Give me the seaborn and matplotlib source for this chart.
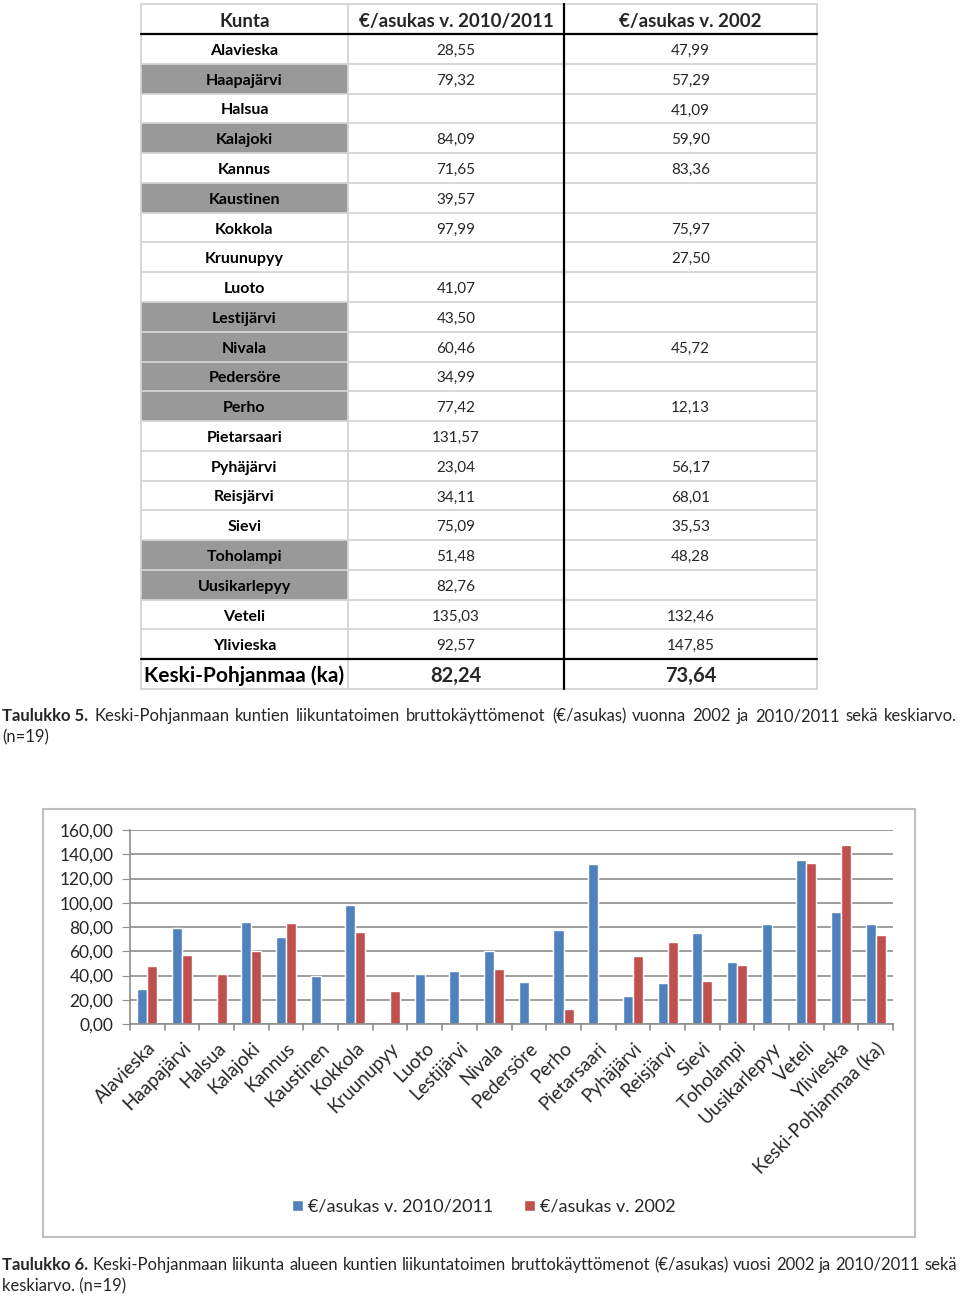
"""
Keski-Pohjanmaa: liikuntatoimen bruttokäyttömenot (€/asukas)
Table (Taulukko 5) + grouped bar chart (Taulukko 6)
"""

import numpy as np
import pandas as pd
import matplotlib
matplotlib.use('Agg')
import matplotlib.pyplot as plt
from matplotlib.patches import Rectangle
import seaborn as sns

nan = np.nan

# --- data -------------------------------------------------------------
kunnat = ['Alavieska', 'Haapajärvi', 'Halsua', 'Kalajoki', 'Kannus', 'Kaustinen',
          'Kokkola', 'Kruunupyy', 'Luoto', 'Lestijärvi', 'Nivala', 'Pedersöre',
          'Perho', 'Pietarsaari', 'Pyhäjärvi', 'Reisjärvi', 'Sievi', 'Toholampi',
          'Uusikarlepyy', 'Veteli', 'Ylivieska', 'Keski-Pohjanmaa (ka)']
v_2011 = [28.55, 79.32, nan, 84.09, 71.65, 39.57, 97.99, nan, 41.07, 43.50, 60.46,
          34.99, 77.42, 131.57, 23.04, 34.11, 75.09, 51.48, 82.76, 135.03, 92.57, 82.24]
v_2002 = [47.99, 57.29, 41.09, 59.90, 83.36, nan, 75.97, 27.50, nan, nan, 45.72,
          nan, 12.13, nan, 56.17, 68.01, 35.53, 48.28, nan, 132.46, 147.85, 73.64]
harmaat = ['Haapajärvi', 'Kalajoki', 'Kaustinen', 'Lestijärvi', 'Nivala',
           'Pedersöre', 'Perho', 'Toholampi', 'Uusikarlepyy']
sarakkeet = ['Kunta', '€/asukas v. 2010/2011', '€/asukas v. 2002']
y_ticks = [0, 20, 40, 60, 80, 100, 120, 140, 160]

caption5 = [('Taulukko 5.', True)] + [(w, False) for w in
            'Keski-Pohjanmaan kuntien liikuntatoimen bruttokäyttömenot (€/asukas) '
            'vuonna 2002 ja 2010/2011 sekä keskiarvo.'.split()]
caption5_2 = '(n=19)'
caption6 = [('Taulukko 6.', True)] + [(w, False) for w in
            'Keski-Pohjanmaan liikunta alueen kuntien liikuntatoimen bruttokäyttömenot '
            '(€/asukas) vuosi 2002 ja 2010/2011 sekä'.split()]
caption6_2 = 'keskiarvo. (n=19)'

BLUE = '#4F81BD'
RED = '#C0504D'

sns.set_style('white')
plt.rcParams['font.family'] = ['Lato', 'DejaVu Sans']

W, H = 960, 1299
fig = plt.figure(figsize=(W / 100, H / 100), dpi=100)

# overlay axes in pixel coordinates for the table and captions
ax0 = fig.add_axes([0, 0, 1, 1])
ax0.set_xlim(0, W)
ax0.set_ylim(H, 0)
ax0.axis('off')


def fmt(v):
    return '' if np.isnan(v) else f'{v:.2f}'.replace('.', ',')


# --- table ------------------------------------------------------------
col_x = [141, 348, 564, 817]
top, head_h = 4, 30
row_h = (689 - 34) / len(kunnat)
grid_c = '#D4D4D4'

for i, k in enumerate(kunnat):
    y0 = top + head_h + i * row_h
    if k in harmaat:
        ax0.add_patch(Rectangle((col_x[0], y0), col_x[1] - col_x[0], row_h,
                                facecolor='#999999', edgecolor='none'))
    last = (i == len(kunnat) - 1)
    cy = y0 + row_h / 2 + 2
    fs_name = 15 if last else 11.5
    fs_val = 14.5 if last else 11
    ax0.text((col_x[0] + col_x[1]) / 2, cy, k, ha='center', va='center',
             fontsize=fs_name, fontweight='bold', color='black')
    ax0.text((col_x[1] + col_x[2]) / 2, cy, fmt(v_2011[i]), ha='center', va='center',
             fontsize=fs_val, fontweight='bold' if last else 'normal')
    ax0.text((col_x[2] + col_x[3]) / 2, cy, fmt(v_2002[i]), ha='center', va='center',
             fontsize=fs_val, fontweight='bold' if last else 'normal')

for j, s in enumerate(sarakkeet):
    ax0.text((col_x[j] + col_x[j + 1]) / 2, top + head_h / 2 + 2, s, ha='center',
             va='center', fontsize=13.5, fontweight='bold')

# grid lines
bottom = top + head_h + len(kunnat) * row_h
for i in range(len(kunnat) + 1):
    y = top + head_h + i * row_h
    ax0.plot([col_x[0], col_x[-1]], [y, y], color=grid_c, lw=1.3, zorder=1)
ax0.plot([col_x[0], col_x[-1]], [top, top], color=grid_c, lw=1.3)
for x in col_x:
    ax0.plot([x, x], [top, bottom], color=grid_c, lw=1.3, zorder=1)
# black rules
ax0.plot([col_x[0], col_x[-1]], [top + head_h] * 2, color='black', lw=1.6, zorder=3)
y_tot = top + head_h + (len(kunnat) - 1) * row_h
ax0.plot([col_x[0], col_x[-1]], [y_tot] * 2, color='black', lw=1.6, zorder=3)
ax0.plot([col_x[2]] * 2, [top, bottom], color='black', lw=1.6, zorder=3)


# --- justified captions ---------------------------------------------------
def justified(words, x0, x1, y, fs=12):
    r = fig.canvas.get_renderer()
    items = []
    for w, b in words:
        t = ax0.text(0, y, w, fontsize=fs, fontweight='bold' if b else 'normal',
                     va='center', ha='left')
        items.append((t, t.get_window_extent(renderer=r).width))
    gap = (x1 - x0 - sum(wd for _, wd in items)) / (len(items) - 1)
    x = x0
    for t, wd in items:
        t.set_x(x)
        x += wd + gap


justified(caption5, 2, 957, 716)
ax0.text(2, 737, caption5_2, fontsize=12, va='center', ha='left')
justified(caption6, 2, 957, 1265)
ax0.text(2, 1286, caption6_2, fontsize=12, va='center', ha='left')

# chart frame
ax0.add_patch(Rectangle((43, 809), 915 - 43, 1237 - 809, facecolor='none',
                        edgecolor='#BFBFBF', lw=1.5))

# --- bar chart ------------------------------------------------------------
df = pd.DataFrame({'Kunta': kunnat, sarakkeet[1]: v_2011, sarakkeet[2]: v_2002})
long = df.melt(id_vars='Kunta', var_name='Sarja', value_name='Arvo')

px_l, px_r, px_t, px_b = 130, 893, 830, 1024
ax = fig.add_axes([px_l / W, (H - px_b) / H, (px_r - px_l) / W, (px_b - px_t) / H])
sns.barplot(data=long, x='Kunta', y='Arvo', hue='Sarja', order=kunnat,
            hue_order=sarakkeet[1:], palette=[BLUE, RED], width=0.58, gap=0,
            errorbar=None, ax=ax, saturation=1)
ax.set_xlim(-0.5, len(kunnat) - 0.5)
ax.set_ylim(0, 160)
ax.set_yticks(y_ticks)
ax.set_yticklabels([f'{v:.2f}'.replace('.', ',') for v in y_ticks], fontsize=12.5)
ax.yaxis.grid(True, color='#8C8C8C', lw=1.2)
ax.set_axisbelow(True)
ax.set_xlabel('')
ax.set_ylabel('')
ax.set_xticks(np.arange(len(kunnat)))
ax.set_xticklabels(kunnat, rotation=45, ha='right', rotation_mode='anchor',
                   fontsize=13.5)
ax.tick_params(axis='x', length=0, pad=11)
ax.tick_params(axis='y', length=6, color='#8C8C8C', left=True, pad=6)
# category separator ticks
for x in np.arange(-0.5, len(kunnat), 1.0):
    ax.plot([x, x], [0, -0.03], transform=ax.get_xaxis_transform(),
            color='#8C8C8C', lw=1.2, clip_on=False)
for s in ['top', 'right']:
    ax.spines[s].set_visible(False)
for s in ['left', 'bottom']:
    ax.spines[s].set_color('#8C8C8C')
    ax.spines[s].set_linewidth(1.2)

handles, labels = ax.get_legend_handles_labels()
ax.get_legend().remove()
fig.legend(handles, labels, loc='center', bbox_to_anchor=(484 / W, (H - 1207) / H),
           ncol=2, frameon=False, fontsize=13, handlelength=0.6, handleheight=0.6,
           handletextpad=0.3, columnspacing=1.7)

fig.savefig('out.png', dpi=100)
